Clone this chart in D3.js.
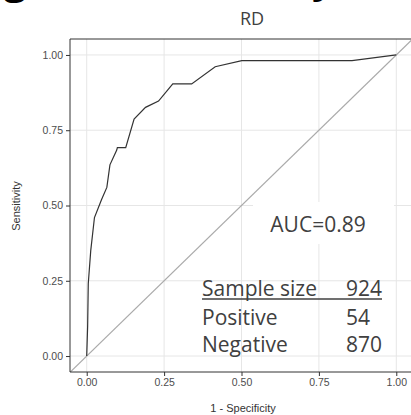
<!DOCTYPE html>
<html>
<head>
<meta charset="utf-8">
<script src="https://d3js.org/d3.v7.min.js"></script>
<style>
  body { margin: 0; background: #fff; }
  svg { display: block; }
</style>
</head>
<body>
<div id="chart"></div>
<script>
// ROC curve
var fpr = [0, 0.003, 0.005, 0.013, 0.025, 0.048, 0.065, 0.075, 0.097, 0.099, 0.126, 0.153, 0.19, 0.232, 0.278, 0.339, 0.415, 0.501, 0.857, 1];
var tpr = [0, 0.10, 0.24, 0.35, 0.46, 0.52, 0.56, 0.635, 0.684, 0.692, 0.692, 0.787, 0.826, 0.847, 0.904, 0.904, 0.961, 0.981, 0.981, 1];
var ticks = [0, 0.25, 0.5, 0.75, 1];
var aucLabel = "AUC=0.89";
var tableLabels = ["Sample size", "Positive", "Negative"];
var tableValues = [924, 54, 870];

var W = 411, H = 415;
var svg = d3.select("#chart").append("svg").attr("width", W).attr("height", H);

// panel box (right edge falls just outside the window)
var pLeft = 70, pRight = 413, pTop = 39, pBottom = 372;
var x = d3.scaleLinear().domain([-0.054, 1.054]).range([pLeft, pRight]);
var y = d3.scaleLinear().domain([-0.053, 1.053]).range([pBottom, pTop]);

// cut-off heading above the chart
svg.append("text").attr("x", 4).attr("y", -6)
  .style("font", "bold 40px 'Open Sans'").attr("fill", "#000").text("g");
svg.append("text").attr("x", 312).attr("y", -7)
  .style("font", "bold 40px 'Open Sans'").attr("fill", "#000").text("y");

svg.append("text").attr("x", 252).attr("y", 25).attr("text-anchor", "middle")
  .style("font", "18px 'Open Sans'").attr("fill", "#404040").text("RD");

svg.append("clipPath").attr("id", "panel").append("rect")
  .attr("x", pLeft).attr("y", pTop).attr("width", pRight - pLeft).attr("height", pBottom - pTop);

var g = svg.append("g").attr("clip-path", "url(#panel)");

// grid
g.selectAll(".gx").data(ticks).enter().append("line")
  .attr("x1", d => x(d)).attr("x2", d => x(d)).attr("y1", pTop).attr("y2", pBottom)
  .attr("stroke", "#e6e6e6").attr("stroke-width", 1);
g.selectAll(".gy").data(ticks).enter().append("line")
  .attr("y1", d => y(d)).attr("y2", d => y(d)).attr("x1", pLeft).attr("x2", pRight)
  .attr("stroke", "#e6e6e6").attr("stroke-width", 1);

// reference diagonal
g.append("line")
  .attr("x1", x(-0.1)).attr("y1", y(-0.1)).attr("x2", x(1.1)).attr("y2", y(1.1))
  .attr("stroke", "#aaa").attr("stroke-width", 1.2);

// ROC curve
var line = d3.line().x(d => x(d[0])).y(d => y(d[1]));
g.append("path").datum(d3.zip(fpr, tpr))
  .attr("d", line).attr("fill", "none")
  .attr("stroke", "#333").attr("stroke-width", 1.2);

// white box behind AUC text
g.append("rect").attr("x", 253).attr("y", 202).attr("width", 141).attr("height", 42).attr("fill", "#fff");

// panel border
svg.append("path")
  .attr("d", "M" + pRight + "," + pTop + "H" + pLeft + "V" + pBottom + "H" + pRight)
  .attr("fill", "none").attr("stroke", "#333").attr("stroke-width", 1);

// axes
var fmt = d3.format(".2f");
var ax = svg.append("g").attr("transform", "translate(0," + pBottom + ")")
  .call(d3.axisBottom(x).tickValues(ticks).tickFormat(fmt).tickSize(4).tickPadding(3));
var ay = svg.append("g").attr("transform", "translate(" + pLeft + ",0)")
  .call(d3.axisLeft(y).tickValues(ticks).tickFormat(fmt).tickSize(4).tickPadding(3));
[ax, ay].forEach(function(a) {
  a.select(".domain").remove();
  a.selectAll(".tick line").attr("stroke", "#333");
  a.selectAll(".tick text").attr("fill", "#4d4d4d")
    .style("font-family", "'Liberation Sans', Arial, sans-serif").style("font-size", "10.5px");
});

svg.append("text").attr("x", 243).attr("y", 412).attr("text-anchor", "middle")
  .style("font", "11px 'Liberation Sans', Arial, sans-serif").attr("fill", "#333").text("1 - Specificity");
svg.append("text").attr("transform", "translate(20,206) rotate(-90)").attr("text-anchor", "middle")
  .style("font", "11px 'Liberation Sans', Arial, sans-serif").attr("fill", "#333").text("Sensitivity");

// annotation
var txtFont = "21px 'Open Sans'";
svg.append("text").attr("x", 318).attr("y", 232).attr("text-anchor", "middle")
  .style("font", txtFont).attr("fill", "#404040").text(aucLabel);

var rowY = [296, 325, 352];
svg.selectAll(".tl").data(tableLabels).enter().append("text")
  .attr("x", 202).attr("y", (d, i) => rowY[i])
  .style("font", txtFont).attr("fill", "#404040").text(d => d);
svg.selectAll(".tv").data(tableValues).enter().append("text")
  .attr("x", 346).attr("y", (d, i) => rowY[i])
  .style("font", txtFont).attr("fill", "#404040").text(d => d);
svg.append("line").attr("x1", 202).attr("x2", 382).attr("y1", 299).attr("y2", 299)
  .attr("stroke", "#404040").attr("stroke-width", 1.5);
</script>
</body>
</html>
